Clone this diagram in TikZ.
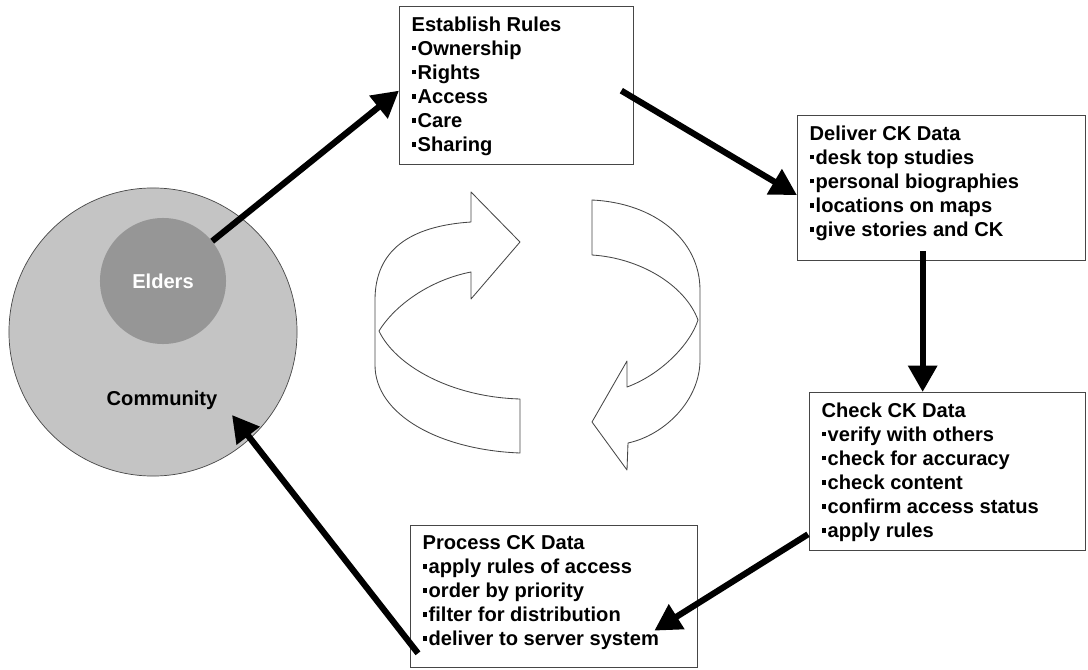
\documentclass[tikz,border=0pt]{standalone}
\usepackage{fontspec}
\setmainfont{Liberation Sans}
\usetikzlibrary{positioning,arrows.meta,calc}
\definecolor{commgray}{RGB}{196,196,196}
\definecolor{eldgray}{RGB}{150,150,150}
\definecolor{edgegray}{RGB}{70,70,70}
\newcommand{\sqbul}{\rule[0.24em]{0.23em}{0.23em}\hspace{0.07em}}
\newcommand{\stepbody}[3]{\parbox[c][#2][t]{#1}{#3}}

\begin{document}
\begin{tikzpicture}[x=0.025cm, y=-0.025cm,
  font=\fontsize{14.3}{17.1}\selectfont\bfseries,
  stepbox/.style={draw=edgegray, line width=0.9pt, fill=white, anchor=north west, inner xsep=0.3cm, inner ysep=0.25cm, align=left},
  arr/.style={-{Triangle[length=0.66cm, width=0.7cm]}, line width=4.4pt},
  ribbon/.style={draw=edgegray, line width=0.6pt, fill=white, line join=round}
]
\useasboundingbox (0,0) rectangle (1088,670);

\node[circle, draw=edgegray, line width=0.5pt, fill=commgray, minimum size=7.2cm, inner sep=0pt] (community) at (153,332) {};
\node[circle, fill=eldgray, minimum size=3.15cm, inner sep=0pt, text=white] (elders) at (163,281) {Elders};
\node (commlabel) at (162,400) {Community};

\node[stepbox] (rules) at (399,6) {\stepbody{5.25cm}{3.45cm}{Establish Rules\\\sqbul Ownership\\\sqbul Rights\\\sqbul Access\\\sqbul Care\\\sqbul Sharing}};
\node[stepbox] (deliver) at (797,115) {\stepbody{6.6cm}{3.125cm}{Deliver CK Data\\\sqbul desk top studies\\\sqbul personal biographies\\\sqbul locations on maps\\\sqbul give stories and CK}};
\node[stepbox] (check) at (809,392) {\stepbody{6.3cm}{3.45cm}{Check CK Data\\\sqbul verify with others\\\sqbul check for accuracy\\\sqbul check content\\\sqbul confirm access status\\\sqbul apply rules}};
\node[stepbox] (proc) at (410,525) {\stepbody{6.575cm}{3.05cm}{Process CK Data\\\sqbul apply rules of access\\\sqbul order by priority\\\sqbul filter for distribution\\\sqbul deliver to server system}};

% turning ribbons in the middle
\draw[ribbon] (471,192) -- (520,242) -- (471,299) -- (471,272)
  .. controls (430,280) and (395,305) .. (379,331)
  .. controls (395,365) and (450,397) .. (520,399)
  -- (520,453)
  .. controls (440,450) and (375,415) .. (375,365)
  -- (375,300)
  .. controls (375,250) and (410,226) .. (471,222) -- cycle;
\draw[ribbon] (592,200) .. controls (655,203) and (700,240) .. (700,290) -- (700,360)
  .. controls (700,400) and (665,435) .. (628,443) -- (627,470) -- (592,422) -- (627,361) -- (627,387)
  .. controls (660,375) and (690,345) .. (698,320)
  .. controls (685,285) and (640,258) .. (592,255) -- cycle;

\draw[arr] (elders.39) -- ($(rules.west)+(0,5)$);
\draw[arr] ($(rules.east)+(-13,5)$) -- ($(deliver.west)+(0,7)$);
\draw[arr] ($(deliver.south)+(-19,-10)$) coordinate (dn) -- (dn |- check.north);
\draw[arr] ($(check.south west)+(-1,-17)$) -- ($(proc.east)+(-44,34)$);
\draw[arr] ($(proc.south west)+(8,-15)$) -- ($(community.center)+(79,83)$);
\end{tikzpicture}
\end{document}
